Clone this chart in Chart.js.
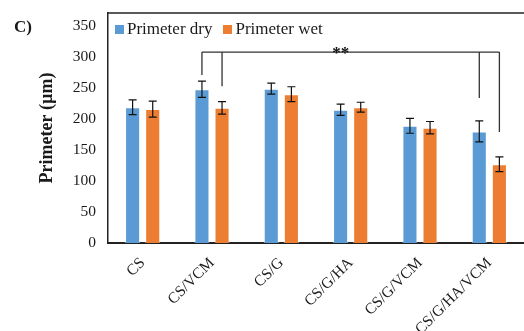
<!DOCTYPE html>
<html>
<head>
<meta charset="utf-8">
<script src="https://cdn.jsdelivr.net/npm/chart.js@4/dist/chart.umd.min.js"></script>
<style>
  body { margin: 0; background: #fff; }
  #wrap { position: relative; width: 524px; height: 331px; font-family: "Liberation Serif", "Times New Roman", serif; color: #1a1a1a; }
  #panel { position: absolute; left: 14px; top: 17px; font-weight: bold; font-size: 17px; }
  #legend { position: absolute; left: 115px; top: 19px; font-size: 17px; display: flex; gap: 11px; }
  #legend span.box { display: inline-block; width: 9px; height: 9px; margin-right: 3px; vertical-align: 0px; }
</style>
</head>
<body>
<div id="wrap">
  <canvas id="chart" width="524" height="331"></canvas>
  <div id="panel">C)</div>
  <div id="legend"></div>
</div>
<script>
// values
const categories = ['CS', 'CS/VCM', 'CS/G', 'CS/G/HA', 'CS/G/VCM', 'CS/G/HA/VCM'];
const dryValues = [219, 248, 249, 215, 189, 180];
const wetValues = [216, 218, 240, 219, 186, 127];
const dryErrors = [12, 13, 9, 9, 12, 17];
const wetErrors = [13, 10, 12, 8, 10, 12];
const seriesNames = ['Primeter dry', 'Primeter wet'];
const seriesColors = ['#5B9BD5', '#ED7D31'];
const yTickValues = [0, 50, 100, 150, 200, 250, 300, 350];
const yTop = 371;

// significance bracket between CS/VCM and CS/G/HA/VCM
const bracketFrom = 1, bracketTo = 5;
const bracketLevel = 308;
const bracketLegEnds = [271, 253, 234, 179];
const bracketLabel = '**';

const errorBars = {
  id: 'errorBars',
  afterDatasetsDraw(chart) {
    const ctx = chart.ctx;
    const y = chart.scales.y;
    const errs = [dryErrors, wetErrors];
    ctx.save();
    ctx.strokeStyle = '#111';
    ctx.lineWidth = 1.2;
    chart.data.datasets.forEach((ds, di) => {
      chart.getDatasetMeta(di).data.forEach((bar, i) => {
        const v = ds.data[i], e = errs[di][i];
        const top = y.getPixelForValue(v + e), bot = y.getPixelForValue(v - e);
        ctx.beginPath();
        ctx.moveTo(bar.x, top); ctx.lineTo(bar.x, bot);
        ctx.moveTo(bar.x - 4, top); ctx.lineTo(bar.x + 4, top);
        ctx.moveTo(bar.x - 4, bot); ctx.lineTo(bar.x + 4, bot);
        ctx.stroke();
      });
    });

    // bracket
    const m0 = chart.getDatasetMeta(0).data, m1 = chart.getDatasetMeta(1).data;
    const xs = [m0[bracketFrom].x, m1[bracketFrom].x, m0[bracketTo].x, m1[bracketTo].x];
    const by = y.getPixelForValue(bracketLevel);
    ctx.strokeStyle = '#333';
    ctx.lineWidth = 1.3;
    ctx.beginPath();
    ctx.moveTo(xs[0], by); ctx.lineTo(xs[3], by);
    xs.forEach((x, k) => {
      ctx.moveTo(x, by); ctx.lineTo(x, y.getPixelForValue(bracketLegEnds[k]));
    });
    ctx.stroke();
    ctx.fillStyle = '#111';
    ctx.font = 'bold 17px "Liberation Serif"';
    ctx.textAlign = 'center';
    ctx.textBaseline = 'alphabetic';
    ctx.fillText(bracketLabel, (xs[0] + xs[3]) / 2 - 10, by + 6);

    // top frame line
    const a = chart.chartArea;
    ctx.strokeStyle = '#222';
    ctx.lineWidth = 1.5;
    ctx.beginPath();
    ctx.moveTo(a.left, a.top); ctx.lineTo(a.right, a.top);
    ctx.stroke();
    ctx.restore();
  }
};

new Chart(document.getElementById('chart'), {
  type: 'bar',
  data: {
    labels: categories,
    datasets: [
      { label: seriesNames[0], data: dryValues, backgroundColor: seriesColors[0] },
      { label: seriesNames[1], data: wetValues, backgroundColor: seriesColors[1] }
    ]
  },
  options: {
    responsive: false,
    animation: false,
    layout: { padding: { left: 37, top: 13, right: 0, bottom: 0 } },
    datasets: { bar: { categoryPercentage: 0.58, barPercentage: 0.75, borderColor: 'rgba(255,255,255,0.5)', borderWidth: 1 } },
    scales: {
      x: {
        grid: { display: false, drawTicks: false },
        border: { color: '#222', width: 2 },
        ticks: {
          color: '#1a1a1a', maxRotation: 45, minRotation: 45, padding: 11,
          font: { family: '"Liberation Serif"', size: 15.5 }
        },
        afterFit(scale) { scale.height = 88; scale.paddingLeft = 0; scale.paddingRight = 0; }
      },
      y: {
        min: 0, max: yTop,
        grid: { display: false, drawTicks: false },
        border: { color: '#222', width: 1.5 },
        ticks: {
          color: '#1a1a1a', padding: 12,
          font: { family: '"Liberation Serif"', size: 15.5 }
        },
        afterBuildTicks(scale) { scale.ticks = yTickValues.map(v => ({ value: v })); },
        title: {
          display: true, text: 'Primeter (µm)', color: '#1a1a1a', padding: { top: 0, bottom: 5 },
          font: { family: '"Liberation Serif"', size: 18, weight: 'bold' }
        },
        afterFit(scale) { scale.width = 71; scale.paddingTop = 0; scale.paddingBottom = 0; }
      }
    },
    plugins: { legend: { display: false }, tooltip: { enabled: false } }
  },
  plugins: [errorBars]
});

const legend = document.getElementById('legend');
seriesNames.forEach((name, i) => {
  const item = document.createElement('div');
  item.innerHTML = '<span class="box" style="background:' + seriesColors[i] + '"></span>' + name;
  legend.appendChild(item);
});
</script>
</body>
</html>
